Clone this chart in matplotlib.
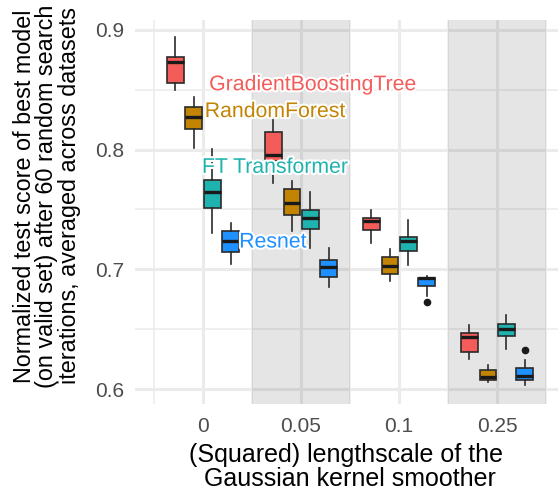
import matplotlib
matplotlib.use("Agg")
import matplotlib.pyplot as plt
import matplotlib.patheffects as pe
import numpy as np

plt.rcParams['font.family'] = ['Liberation Sans', 'DejaVu Sans']

# x categories (squared lengthscale)
lengthscales = ["0", "0.05", "0.1", "0.25"]
models = ["GradientBoostingTree", "RandomForest", "FT Transformer", "Resnet"]
colors = ["#F45C5A", "#C38404", "#1FB3AF", "#1E90FF"]

# box stats per model, one entry per lengthscale: [whislo, q1, med, q3, whishi]
gbt = [[0.8495, 0.856, 0.873, 0.877, 0.894],
       [0.7725, 0.7908, 0.7957, 0.815, 0.825],
       [0.722, 0.733, 0.7405, 0.7433, 0.7494],
       [0.6249, 0.6313, 0.6432, 0.6471, 0.6537]]
rf = [[0.8016, 0.8174, 0.827, 0.836, 0.8437],
      [0.7322, 0.7458, 0.7558, 0.7675, 0.7738],
      [0.6906, 0.6964, 0.7031, 0.7106, 0.717],
      [0.6055, 0.6077, 0.6097, 0.6163, 0.6199]]
ft = [[0.730, 0.7513, 0.765, 0.7744, 0.8007],
      [0.7178, 0.7336, 0.7425, 0.7497, 0.765],
      [0.7037, 0.715, 0.7234, 0.7267, 0.7408],
      [0.6338, 0.6443, 0.6498, 0.6543, 0.662]]
resnet = [[0.7042, 0.7147, 0.7239, 0.7322, 0.7384],
          [0.6856, 0.6934, 0.7017, 0.7078, 0.7178],
          [0.6776, 0.686, 0.6926, 0.693, 0.6942],
          [0.6032, 0.6077, 0.6105, 0.6177, 0.624]]
# outliers per model per lengthscale
fliers = {
    "GradientBoostingTree": [[], [], [], []],
    "RandomForest": [[], [], [], []],
    "FT Transformer": [[], [], [], []],
    "Resnet": [[], [], [0.6726], [0.6324]],
}
all_stats = [gbt, rf, ft, resnet]

# label positions (data coords)
label_x = [1.12, 0.735, 0.735, 0.714]
label_y = [0.8542, 0.8318, 0.7852, 0.7228]

fig = plt.figure(figsize=(5.59, 4.91), dpi=100)
ax = fig.add_axes([135/559, 1-404/491, (558-135)/559, (404-20)/491])

x = np.arange(len(lengthscales))
dodge = 0.1875
for i, (m, st) in enumerate(zip(models, all_stats)):
    bstats = []
    for j, s in enumerate(st):
        bstats.append(dict(whislo=s[0], q1=s[1], med=s[2], q3=s[3], whishi=s[4],
                           fliers=fliers[m][j]))
    pos = x + (i - 1.5) * dodge
    ax.bxp(bstats, positions=pos, widths=0.17, patch_artist=True,
           showcaps=False, manage_ticks=False, zorder=3,
           boxprops=dict(facecolor=colors[i], edgecolor="#2b2b2b", linewidth=1.2),
           whiskerprops=dict(color="#2b2b2b", linewidth=1.2),
           medianprops=dict(color="#1a1a1a", linewidth=2.4),
           flierprops=dict(marker="o", markerfacecolor="#1a1a1a",
                           markeredgecolor="#1a1a1a", markersize=4.5))
    ax.text(label_x[i], label_y[i], m, color=colors[i], fontsize=15.3,
            ha="center", va="center", zorder=5,
            path_effects=[pe.withStroke(linewidth=3, foreground="white")])

# shaded bands
for k in [1, 3]:
    ax.axvspan(k - 0.5, k + 0.5, color="black", alpha=0.1, lw=0, zorder=1)

ax.set_xlim(-0.694, 3.622)
ax.set_ylim(0.5875, 0.9083)
ax.set_xticks(x)
ax.set_xticklabels(lengthscales)
ax.set_xticks(np.arange(-0.5, 4, 1), minor=True)
ax.set_yticks([0.6, 0.7, 0.8, 0.9])
ax.set_yticklabels(["0.6", "0.7", "0.8", "0.9"])
ax.set_yticks([0.65, 0.75, 0.85], minor=True)
ax.set_axisbelow(True)
ax.grid(which="major", color="#EBEBEB", linewidth=2.2, zorder=0)
ax.grid(which="minor", color="#EBEBEB", linewidth=1.1, zorder=0)
for sp in ax.spines.values():
    sp.set_visible(False)
ax.tick_params(which="both", length=0, labelsize=15, labelcolor="#4D4D4D")
ax.tick_params(axis="y", pad=8)
ax.tick_params(axis="x", pad=9)

fig.text(346/559, 1-467/491, "(Squared) lengthscale of the\n Gaussian kernel smoother",
         ha="center", va="center", fontsize=18, linespacing=0.95)
fig.text(47/559, 1-196/491,
         "Normalized test score of best model\n(on valid set) after 60 random search\niterations, averaged across datasets",
         ha="center", va="center", rotation=90, fontsize=16.8, linespacing=0.98)

fig.savefig("out.png", dpi=100)
